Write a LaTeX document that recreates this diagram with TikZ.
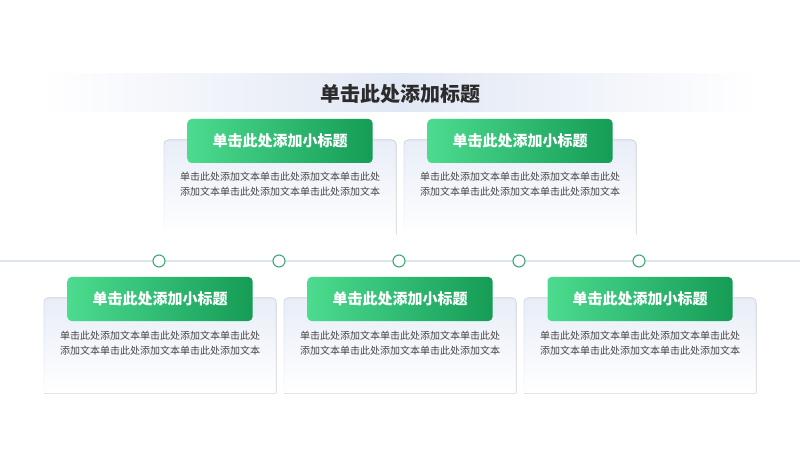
\documentclass[tikz,border=0pt]{standalone}
\usepackage{fontspec}
\setmainfont{Noto Sans CJK SC}
\usetikzlibrary{fadings}
\definecolor{bandc}{HTML}{E1E7F4}
\definecolor{cardtop}{HTML}{E8EDF7}
\definecolor{cardline}{HTML}{D3DBEB}
\definecolor{gA}{HTML}{4CDB8F}
\definecolor{gB}{HTML}{159C55}
\definecolor{linec}{HTML}{DCE4F0}
\definecolor{dotc}{HTML}{3FA97A}
\definecolor{bodyc}{HTML}{444444}
\definecolor{titlec}{HTML}{2B2B2B}
\tikzfading[name=fadedown, top color=transparent!0, middle color=transparent!45, bottom color=transparent!90]
\tikzset{
  cardfill/.style={top color=cardtop, middle color=white!55!cardtop, bottom color=white},
  cardedge/.style={draw=cardline, line width=0.8pt, path fading=fadedown},
  headbox/.style={rounded corners=4pt, left color=gA, right color=gB,
    minimum width=185pt, minimum height=44pt, inner sep=0pt,
    text=white, font=\fontsize{15pt}{18pt}\selectfont\bfseries},
  bodytext/.style={text=bodyc, align=center, font=\fontsize{10pt}{15pt}\selectfont, inner sep=0pt},
  dot/.style={circle, draw=dotc, fill=white, line width=1.1pt, minimum size=12pt, inner sep=0pt},
}
\begin{document}
\begin{tikzpicture}[x=1pt,y=1pt]
\useasboundingbox (0,0) rectangle (800,450);
\fill[white] (0,0) rectangle (800,450);
% title band
\shade[left color=white, right color=white, middle color=bandc] (40,376) rectangle (760,338);
\node[text=titlec, font=\fontsize{20pt}{24pt}\selectfont\bfseries] (title) at (400,356) {单击此处添加标题};
% timeline
\coordinate (l0) at (0,189);
\coordinate (l1) at (800,189);
\draw[linec, line width=1.4pt] (l0) -- (l1);
\foreach \i/\x in {1/159,2/279,3/399,4/519,5/639} {
  \node[dot] (d\i) at (\x,189) {};
}
% top cards
\foreach \n/\cx in {t1/280,t2/520} {
  \fill[cardfill] (\cx-116,215) -- (\cx-116,306) arc[start angle=180,end angle=90,radius=4] -- (\cx+112,310) arc[start angle=90,end angle=0,radius=4] -- (\cx+116,215) -- cycle;
  \draw[cardedge] (\cx-116,215) -- (\cx-116,306) arc[start angle=180,end angle=90,radius=4] -- (\cx+112,310) arc[start angle=90,end angle=0,radius=4] -- (\cx+116,215);
  \node[headbox] (\n h) at (\cx,309) {单击此处添加小标题};
  \node[bodytext] (\n b) at (\cx,265.5) {单击此处添加文本单击此处添加文本单击此处\\添加文本单击此处添加文本单击此处添加文本};
}
% bottom cards
\foreach \n/\cx in {b1/160,b2/400,b3/640} {
  \fill[cardfill] (\cx-116,57) -- (\cx-116,148) arc[start angle=180,end angle=90,radius=4] -- (\cx+112,152) arc[start angle=90,end angle=0,radius=4] -- (\cx+116,57) -- cycle;
  \draw[cardedge] (\cx-116,57) -- (\cx-116,148) arc[start angle=180,end angle=90,radius=4] -- (\cx+112,152) arc[start angle=90,end angle=0,radius=4] -- (\cx+116,57);
  \node[headbox] (\n h) at (\cx,151) {单击此处添加小标题};
  \node[bodytext] (\n b) at (\cx,107) {单击此处添加文本单击此处添加文本单击此处\\添加文本单击此处添加文本单击此处添加文本};
}
\end{tikzpicture}
\end{document}
